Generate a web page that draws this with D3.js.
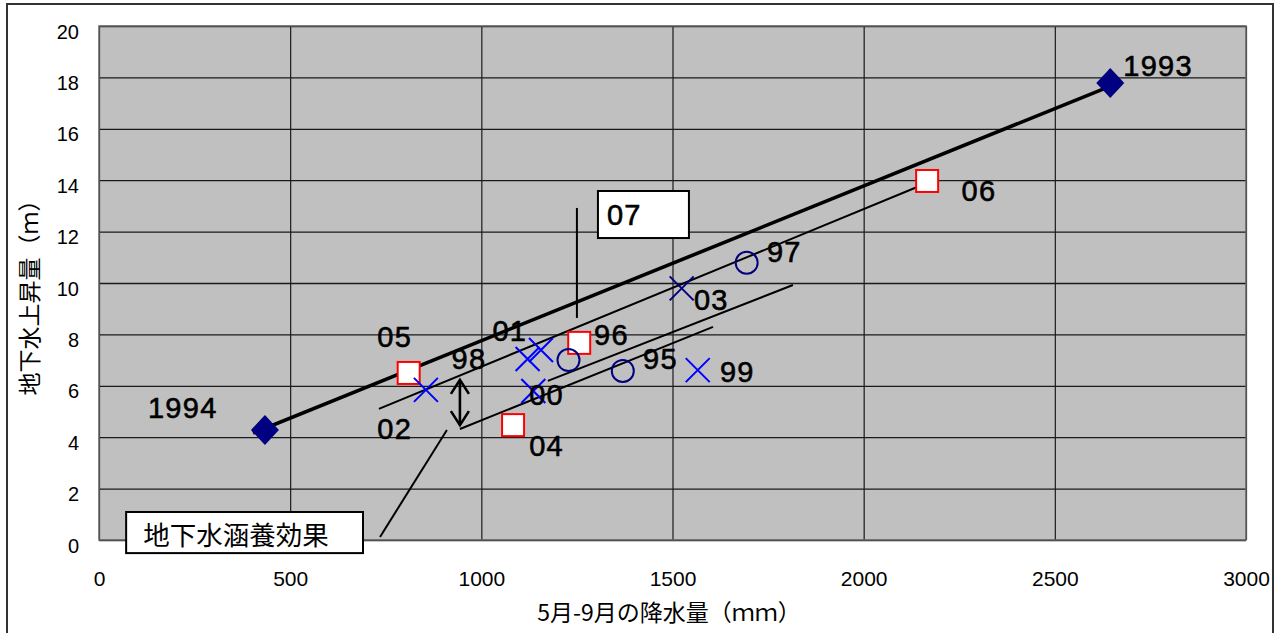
<!DOCTYPE html>
<html>
<head>
<meta charset="utf-8">
<script src="https://cdn.jsdelivr.net/npm/d3@7"></script>
<style>
  html, body { margin: 0; padding: 0; background: #fff; }
  svg { display: block; }
</style>
</head>
<body>
<svg id="chart" width="1282" height="633"></svg>
<script>
// ---------- data ----------
const xTicks = [0, 500, 1000, 1500, 2000, 2500, 3000];
const yTicks = [0, 2, 4, 6, 8, 10, 12, 14, 16, 18, 20];

// 1993 / 1994 (diamonds)
const diamondX = [434, 2645];
const diamondY = [4.28, 17.78];

// squares (05, 96, 04, 06)
const squareX = [810, 1256, 1083, 2166];
const squareY = [6.5, 7.67, 4.47, 13.97];

// circles (near 96, 95, 97)
const circleX = [1228, 1370, 1694];
const circleY = [7.0, 6.58, 10.79];

// crosses
const crossNames = ["02", "98", "01", "00", "03", "99"];
const crossX = [855, 1121, 1156, 1136, 1524, 1566];
const crossY = [5.84, 7.04, 7.39, 5.8, 9.79, 6.61];

// point labels (text and anchor, in data units)
const labelText = ["1993", "1994", "06", "97", "03", "05", "98", "01", "96", "95", "99", "02", "00", "04"];
const labelX    = [2679, 128, 2256, 1747, 1556, 728, 922, 1029, 1295, 1423, 1624, 728, 1125, 1125];
const labelY    = [18.05, 4.75, 13.2, 10.82, 8.93, 7.51, 6.65, 7.74, 7.59, 6.65, 6.15, 3.93, 5.25, 3.27];

// lines [x1, y1, x2, y2] in data units
const thickLine = [403, 4.16, 2652, 17.7];
const thinLines = [
  [732, 5.1, 2167, 13.9],
  [1174, 6.19, 1815, 9.92],
  [944, 4.32, 1606, 8.29]
];
const arrowLine = [944, 6.23, 944, 4.47];
const calloutLines = [
  [1250, 12.92, 1250, 8.64],
  [735, 0.12, 910, 4.28]
];
// text boxes [x1, y1, x2, y2] + text
const boxText = ["07", "地下水涵養効果"];
const boxRect = [
  [1305, 13.58, 1543, 11.75],
  [71, 1.09, 690.5, -0.51]
];

const xTitle = "5月-9月の降水量（ｍｍ）";
const yTitle = "地下水上昇量（ｍ）";

// ---------- drawing ----------
const svg = d3.select("#chart");
const L = 99, R = 1246, T = 26, B = 540;
const x = d3.scaleLinear().domain([0, 3000]).range([L, R]);
const y = d3.scaleLinear().domain([0, 20]).range([B, T]);
const latin = "'Liberation Sans', Arial, sans-serif";
const cjk = "'Noto Sans CJK JP', 'Noto Sans CJK SC', sans-serif";

// outer frame
svg.append("rect").attr("x", 7).attr("y", 4).attr("width", 1266).attr("height", 640)
  .attr("fill", "#fff").attr("stroke", "#333").attr("stroke-width", 2);

// plot background
svg.append("rect").attr("x", L).attr("y", T).attr("width", R - L).attr("height", B - T)
  .attr("fill", "#c0c0c0");

// gridlines via axes
svg.append("g").attr("transform", `translate(0,${B})`)
  .call(d3.axisBottom(x).tickValues(xTicks).tickSize(-(B - T)).tickFormat(""))
  .call(g => g.select(".domain").remove())
  .call(g => g.selectAll("line").attr("stroke", "#1a1a1a").attr("stroke-width", 1.2));
svg.append("g").attr("transform", `translate(${L},0)`)
  .call(d3.axisLeft(y).tickValues(yTicks).tickSize(-(R - L)).tickFormat(""))
  .call(g => g.select(".domain").remove())
  .call(g => g.selectAll("line").attr("stroke", "#1a1a1a").attr("stroke-width", 1.3));

// plot border
svg.append("rect").attr("x", L).attr("y", T).attr("width", R - L).attr("height", B - T)
  .attr("fill", "none").attr("stroke", "#666").attr("stroke-width", 1.5);

// tick labels
svg.append("g").attr("transform", `translate(0,${B})`)
  .call(d3.axisBottom(x).tickValues(xTicks).tickSize(0).tickPadding(0).tickFormat(d3.format("d")))
  .call(g => g.select(".domain").remove())
  .call(g => g.selectAll("text").attr("y", 46).attr("dy", 0)
    .attr("font-family", latin).attr("font-size", 21).attr("fill", "#000"));
svg.append("g").attr("transform", `translate(${L},0)`)
  .call(d3.axisLeft(y).tickValues(yTicks).tickSize(0).tickPadding(0).tickFormat(d3.format("d")))
  .call(g => g.select(".domain").remove())
  .call(g => g.selectAll("text").attr("x", -20).attr("dy", 12)
    .attr("font-family", latin).attr("font-size", 20).attr("fill", "#000"));

// axis titles
svg.append("text").attr("x", 669).attr("y", 621).attr("text-anchor", "middle")
  .attr("font-family", cjk).attr("font-size", 23).attr("fill", "#000").text(xTitle);
svg.append("text").attr("transform", `translate(38,292) rotate(-90)`).attr("text-anchor", "middle")
  .attr("font-family", cjk).attr("font-size", 23).attr("fill", "#000").text(yTitle);

// lines
const seg = (arr, w) => svg.append("line")
  .attr("x1", x(arr[0])).attr("y1", y(arr[1])).attr("x2", x(arr[2])).attr("y2", y(arr[3]))
  .attr("stroke", "#000").attr("stroke-width", w).attr("stroke-linecap", "butt");
seg(thickLine, 3.6);
thinLines.forEach(l => seg(l, 2));
calloutLines.forEach(l => seg(l, 2));

// double arrow
(function () {
  const ax = x(arrowLine[0]), ay1 = y(arrowLine[1]), ay2 = y(arrowLine[3]);
  const g = svg.append("g").attr("stroke", "#000").attr("stroke-width", 2.6).attr("fill", "none");
  g.append("line").attr("x1", ax).attr("y1", ay1 + 1).attr("x2", ax).attr("y2", ay2 - 1);
  g.append("polyline").attr("points", `${ax - 9},${ay1 + 14} ${ax},${ay1} ${ax + 9},${ay1 + 14}`);
  g.append("polyline").attr("points", `${ax - 9},${ay2 - 14} ${ax},${ay2} ${ax + 9},${ay2 - 14}`);
})();

// diamonds
svg.append("g").selectAll("path").data(diamondX).join("path")
  .attr("transform", (d, i) => `translate(${x(d)},${y(diamondY[i])})`)
  .attr("d", "M0,-15 L14,0 L0,15 L-14,0 Z").attr("fill", "#000080");

// squares
svg.append("g").selectAll("rect").data(squareX).join("rect")
  .attr("x", (d) => x(d) - 11).attr("y", (d, i) => y(squareY[i]) - 11)
  .attr("width", 22).attr("height", 22)
  .attr("fill", "#fff").attr("stroke", "#ff0000").attr("stroke-width", 2);

// circles
svg.append("g").selectAll("circle").data(circleX).join("circle")
  .attr("cx", d => x(d)).attr("cy", (d, i) => y(circleY[i])).attr("r", 11)
  .attr("fill", "none").attr("stroke", "#000080").attr("stroke-width", 2);

// crosses
svg.append("g").selectAll("path").data(crossX).join("path")
  .attr("transform", (d, i) => `translate(${x(d)},${y(crossY[i])})`)
  .attr("d", "M-12,-12 L12,12 M-12,12 L12,-12")
  .attr("stroke", (d, i) => crossNames[i] === "03" ? "#000080" : "#0000ff")
  .attr("stroke-width", 2).attr("fill", "none");

// point labels
svg.append("g").selectAll("text").data(labelText).join("text")
  .attr("x", (d, i) => x(labelX[i])).attr("y", (d, i) => y(labelY[i]))
  .attr("font-family", latin).attr("font-size", 29).attr("letter-spacing", 1.3)
  .attr("fill", "#000").attr("stroke", "#000").attr("stroke-width", 0.6)
  .text(d => d);

// text boxes
boxRect.forEach((b, i) => {
  const bx = x(b[0]), by = y(b[1]), bw = x(b[2]) - x(b[0]), bh = y(b[3]) - y(b[1]);
  svg.append("rect").attr("x", bx).attr("y", by).attr("width", bw).attr("height", bh)
    .attr("fill", "#fff").attr("stroke", "#000").attr("stroke-width", 2);
  const t = svg.append("text").attr("fill", "#000").text(boxText[i]);
  if (i === 0) {
    t.attr("x", bx + 9).attr("y", by + 34).attr("font-family", latin).attr("font-size", 29)
      .attr("letter-spacing", 1.3).attr("stroke", "#000").attr("stroke-width", 0.6);
  } else {
    t.attr("x", bx + 17).attr("y", by + 33).attr("font-family", cjk).attr("font-size", 26.5);
  }
});
</script>
</body>
</html>
